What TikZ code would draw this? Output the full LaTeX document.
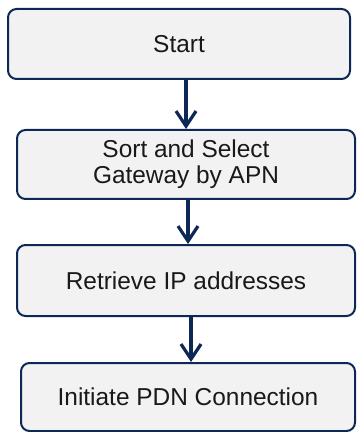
\documentclass[tikz,border=0pt]{standalone}
\usepackage{fontspec}
\setmainfont{Liberation Sans}
\definecolor{flownavy}{RGB}{14,40,85}
\definecolor{flowfill}{RGB}{242,242,242}
\usepackage{tikz}
\usetikzlibrary{arrows.meta,positioning}

\begin{document}
\begin{tikzpicture}[every node/.style={font=\fontsize{13.9}{16}\selectfont, text=black!90},
    flowbox/.style={draw=flownavy, line width=0.04cm, rounded corners=0.17cm, fill=flowfill, align=center},
    flowarrow/.style={draw=flownavy, line width=0.065cm, -{Straight Barb[length=0.3cm, width=0.4cm]}}]
    \useasboundingbox (0,0) rectangle (7.14,-8.64);

    % Boxes
    \node[flowbox, minimum width=6.84cm, minimum height=1.4cm] (start) at (3.58,-0.88) {Start};
    \node[flowbox, minimum width=6.76cm, minimum height=1.38cm] (gateway) at (3.72,-3.29) {Sort and Select\\[-1pt]Gateway by APN};
    \node[flowbox, minimum width=6.76cm, minimum height=1.42cm] (retrieve) at (3.72,-5.61) {Retrieve IP addresses};
    \node[flowbox, minimum width=6.68cm, minimum height=1.36cm] (initiate) at (3.76,-7.94) {Initiate PDN Connection};

    % Arrows
    \draw[flowarrow] (start.south -| gateway.north) -- (gateway.north);
    \draw[flowarrow] ([xshift=0.04cm]gateway.south) -- ([xshift=0.04cm]retrieve.north);
    \draw[flowarrow] ([xshift=0.06cm]retrieve.south -| initiate.north) -- ([xshift=0.06cm]initiate.north);
\end{tikzpicture}
\end{document}
